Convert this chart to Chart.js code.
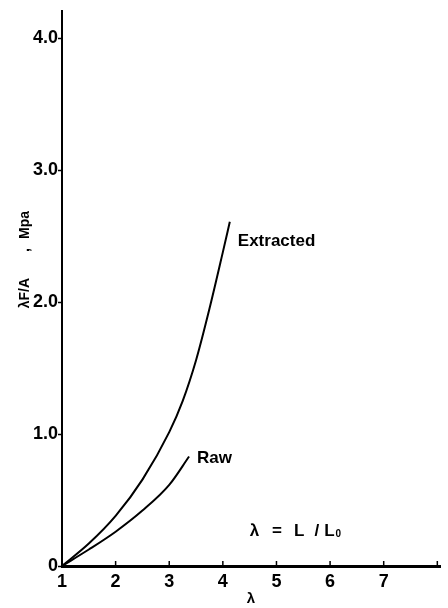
<!DOCTYPE html>
<html>
<head>
<meta charset="utf-8">
<script src="https://cdn.jsdelivr.net/npm/chart.js@4"></script>
<style>
  html, body { margin: 0; padding: 0; background: #fff; }
  #wrap { position: relative; width: 448px; height: 608px; }
</style>
</head>
<body>
<div id="wrap"><canvas id="grafico"></canvas></div>
<script>
// curvas esfuerzo-extensión (lambda vs lambda F/A)
const extraidoX = [1.0, 1.5, 2.0, 2.5, 3.0, 3.25, 3.5, 3.75, 4.0, 4.13];
const extraidoY = [0.0, 0.17, 0.38, 0.655, 1.015, 1.25, 1.56, 1.95, 2.38, 2.61];
const crudoX = [1.0, 1.5, 2.0, 2.5, 3.0, 3.37];
const crudoY = [0.0, 0.125, 0.26, 0.42, 0.615, 0.83];

const ticksY = [0, 1, 2, 3, 4];
const etiquetasY = ['0', '1.0', '2.0', '3.0', '4.0'];
const ticksX = [1, 2, 3, 4, 5, 6, 7];

const fuente = '"Liberation Sans", Arial, sans-serif';
const negro = '#000';

function puntos(xs, ys) {
  return xs.map((x, i) => ({ x: x, y: ys[i] }));
}

// escribe trozos de texto separados por huecos fijos
function trozos(c, lista, x, y) {
  lista.forEach(([t, hueco]) => {
    c.fillText(t, x, y);
    x += c.measureText(t).width + hueco;
  });
  return x;
}

// textos sobre el gráfico: etiquetas de curvas, ecuación y título del eje Y
const textos = {
  id: 'textos',
  afterDraw(chart) {
    const c = chart.ctx;
    const sx = chart.scales.x, sy = chart.scales.y;
    c.save();
    c.fillStyle = negro;
    c.textBaseline = 'middle';
    c.textAlign = 'left';
    c.font = 'bold 17px ' + fuente;

    const finE = extraidoX.length - 1;
    c.fillText('Extracted', sx.getPixelForValue(extraidoX[finE]) + 8, sy.getPixelForValue(extraidoY[finE]) + 20);
    const finC = crudoX.length - 1;
    c.fillText('Raw', sx.getPixelForValue(crudoX[finC]) + 8, sy.getPixelForValue(crudoY[finC]) + 2);

    // λ = L / L0
    const py = sy.getPixelForValue(0.26);
    const px = trozos(c, [['λ', 13], ['=', 12], ['L', 10], ['/', 5], ['L', 1]], sx.getPixelForValue(4.5), py);
    c.font = 'bold 10px ' + fuente;
    c.fillText('0', px, py + 3);

    // título del eje Y, de abajo hacia arriba
    c.font = 'bold 14px ' + fuente;
    c.translate(25, sy.getPixelForValue(2) + 6);
    c.rotate(-Math.PI / 2);
    trozos(c, [['λF/A', 26], [',', 9], ['Mpa', 0]], 0, 0);
    c.restore();

    // marcas del eje X hacia dentro
    c.save();
    c.strokeStyle = negro;
    c.lineWidth = 1.5;
    const base = sy.getPixelForValue(0);
    ticksX.concat([8]).forEach(v => {
      const x = sx.getPixelForValue(v);
      c.beginPath();
      c.moveTo(x, base);
      c.lineTo(x, base - 5);
      c.stroke();
    });
    c.restore();
  }
};

const ctx = document.getElementById('grafico').getContext('2d');
const grafico = new Chart(ctx, {
  type: 'line',
  data: {
    datasets: [{
      label: 'Extracted',
      data: puntos(extraidoX, extraidoY),
      borderColor: negro,
      borderWidth: 2,
      pointRadius: 0,
      cubicInterpolationMode: 'monotone',
      fill: false
    }, {
      label: 'Raw',
      data: puntos(crudoX, crudoY),
      borderColor: negro,
      borderWidth: 2,
      pointRadius: 0,
      cubicInterpolationMode: 'monotone',
      fill: false
    }]
  },
  options: {
    responsive: true,
    maintainAspectRatio: false,
    animation: false,
    layout: { padding: { top: 8, right: 8, left: 0, bottom: 0 } },
    plugins: {
      legend: { display: false },
      tooltip: { enabled: false }
    },
    scales: {
      x: {
        type: 'linear',
        min: 1,
        max: 8.05,
        afterFit: s => { s.height = 42; },
        afterBuildTicks: s => { s.ticks = ticksX.concat([8]).map(v => ({ value: v })); },
        border: { color: negro, width: 3 },
        grid: { display: true, drawOnChartArea: false, drawTicks: false, color: 'rgba(0,0,0,0)' },
        ticks: {
          color: negro,
          padding: 5,
          font: { family: fuente, size: 18, weight: 'bold' },
          callback: v => (ticksX.includes(v) ? String(v) : '')
        },
        title: {
          display: true,
          text: 'λ',
          color: negro,
          padding: { top: 0, bottom: 0 },
          font: { family: fuente, size: 15, weight: 'bold' }
        }
      },
      y: {
        type: 'linear',
        min: 0,
        max: 4.21,
        afterFit: s => { s.width = 62; },
        afterBuildTicks: s => { s.ticks = ticksY.map(v => ({ value: v })); },
        border: { color: negro, width: 2 },
        grid: { display: true, drawOnChartArea: false, drawTicks: true, tickLength: 4, tickWidth: 1.5, color: negro },
        ticks: {
          color: negro,
          padding: 0,
          font: { family: fuente, size: 18, weight: 'bold' },
          callback: v => etiquetasY[ticksY.indexOf(v)]
        }
      }
    }
  },
  plugins: [textos]
});
</script>
</body>
</html>
